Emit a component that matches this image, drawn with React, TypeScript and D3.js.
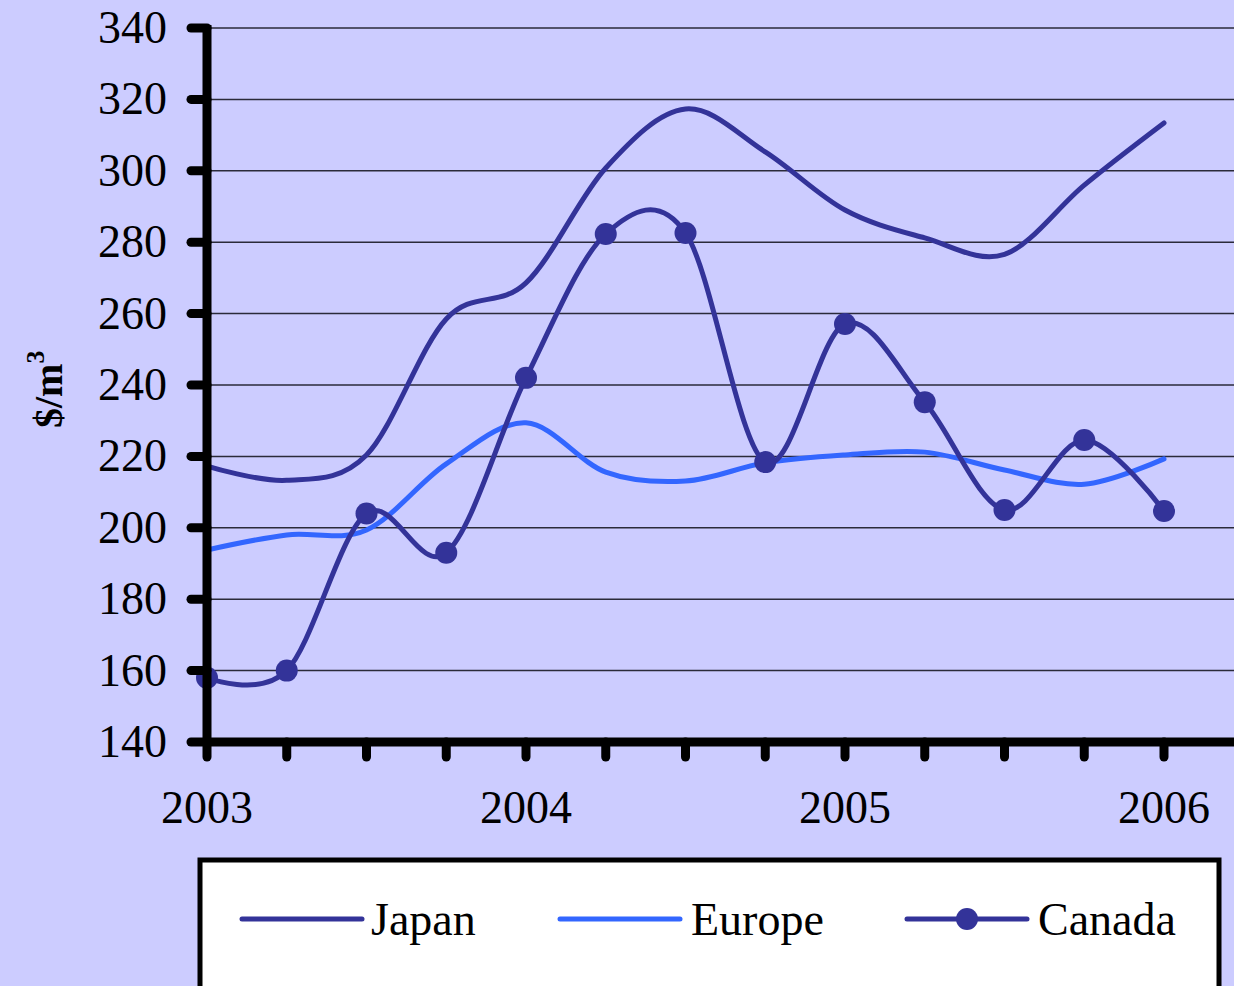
import React from "react";
import * as d3 from "d3";

const quarters = d3.range(13); // 2003 Q1 ... 2006 Q1
const yearLabels = ["2003", "2004", "2005", "2006"];
const yTicks = [140, 160, 180, 200, 220, 240, 260, 280, 300, 320, 340];

const japan = [217.3, 213.3, 220.4, 258.5, 268.6, 300.8, 317.3, 305.3, 289, 281.2, 276.6, 296, 313.4];
const europe = [193.8, 198, 199.4, 217.9, 229.4, 215.6, 213.1, 218.2, 220.4, 221.2, 216.2, 212.2, 219.3];
const canada = [158, 160, 204, 193, 242, 282.3, 282.6, 218.4, 257.1, 235.2, 205, 224.6, 204.7];

const series = [
  { name: "Japan", values: japan, color: "#333399", markers: false },
  { name: "Europe", values: europe, color: "#3366ff", markers: false },
  { name: "Canada", values: canada, color: "#333399", markers: true },
];

export default function App() {
  const W = 1234, H = 986;
  const x = d3.scaleLinear().domain([0, 12]).range([207, 1164]);
  const y = d3.scaleLinear().domain([140, 340]).range([742, 28]);
  const line = d3
    .line<number>()
    .x((_, i) => x(i))
    .y((d) => y(d))
    .curve(d3.curveCardinal.tension(0));
  const font = "'Liberation Serif', 'Times New Roman', serif";
  const legendItems = [
    { s: series[0], lx: 242, tx: 371 },
    { s: series[1], lx: 560, tx: 691 },
    { s: series[2], lx: 907, tx: 1038 },
  ];
  return (
    <svg width={W} height={H} style={{ position: "absolute", left: 0, top: 0 }} fontFamily={font}>
      <rect x={0} y={0} width={W} height={H} fill="#ccccff" />
      {/* gridlines */}
      {yTicks.slice(1).map((t) => (
        <line key={t} x1={x(0)} x2={W} y1={y(t)} y2={y(t)} stroke="#2a2a3a" strokeWidth={1.5} />
      ))}
      {/* series */}
      {series.map((s) => (
        <path key={s.name} d={line(s.values) || ""} fill="none" stroke={s.color} strokeWidth={5} strokeLinecap="round" strokeLinejoin="round" />
      ))}
      {series
        .filter((s) => s.markers)
        .map((s) =>
          s.values.map((v, i) => <circle key={s.name + i} cx={x(i)} cy={y(v)} r={11} fill={s.color} />)
        )}
      {/* y axis */}
      <line x1={x(0)} x2={x(0)} y1={y(340) - 3} y2={y(140)} stroke="#000" strokeWidth={9} />
      {yTicks.map((t) => (
        <g key={t}>
          <line x1={191} x2={x(0)} y1={y(t)} y2={y(t)} stroke="#000" strokeWidth={9} strokeLinecap="round" />
          <text x={167} y={y(t) + 15} textAnchor="end" fontSize={46} fill="#000">
            {t}
          </text>
        </g>
      ))}
      {/* x axis */}
      <line x1={x(0)} x2={W} y1={y(140)} y2={y(140)} stroke="#000" strokeWidth={9} />
      {quarters.map((q) => (
        <line key={q} x1={x(q)} x2={x(q)} y1={y(140)} y2={757} stroke="#000" strokeWidth={9} strokeLinecap="round" />
      ))}
      {yearLabels.map((l, i) => (
        <text key={l} x={x(i * 4)} y={823} textAnchor="middle" fontSize={46} fill="#000">
          {l}
        </text>
      ))}
      {/* y title */}
      <text transform="translate(62,428) rotate(-90)" fontSize={40} fontWeight="bold" fill="#000">
        $/m
        <tspan fontSize={26} dy={-18}>3</tspan>
      </text>
      {/* legend */}
      <rect x={200} y={860} width={1019} height={140} fill="#fff" stroke="#000" strokeWidth={5} />
      {legendItems.map(({ s, lx, tx }) => (
        <g key={s.name}>
          <line x1={lx} x2={lx + 120} y1={919} y2={919} stroke={s.color} strokeWidth={5} strokeLinecap="round" />
          {s.markers && <circle cx={lx + 60} cy={919} r={11} fill={s.color} />}
          <text x={tx} y={935} fontSize={46} fill="#000">
            {s.name}
          </text>
        </g>
      ))}
    </svg>
  );
}
